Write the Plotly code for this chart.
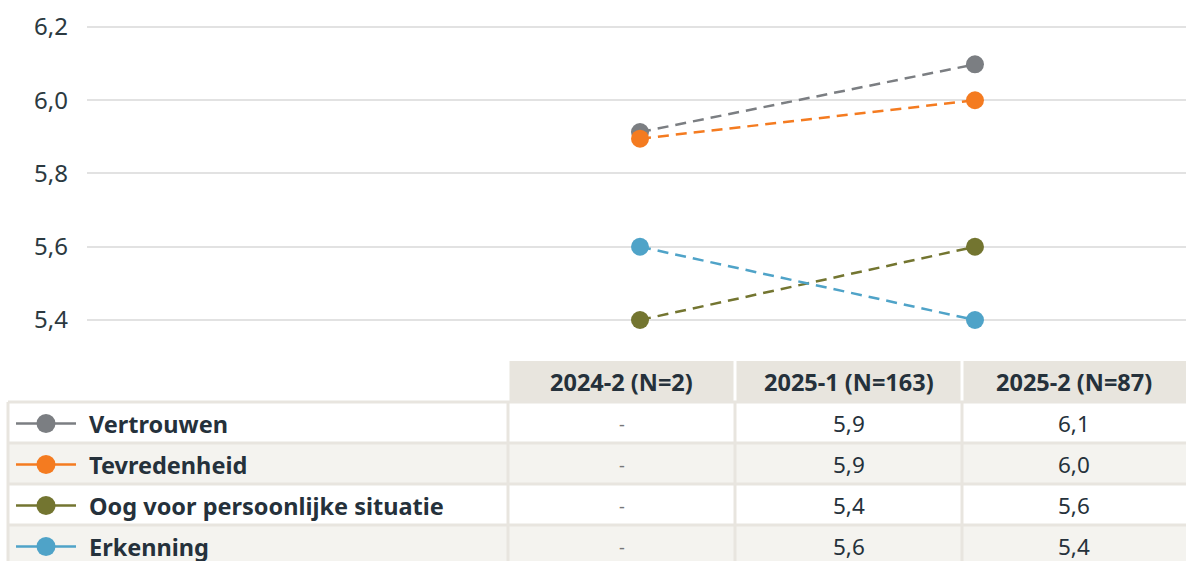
import plotly.graph_objects as go

W, H = 1186, 561

PERIODS = ["2024-2 (N=2)", "2025-1 (N=163)", "2025-2 (N=87)"]
SERIES = ["Vertrouwen", "Tevredenheid", "Oog voor persoonlijke situatie", "Erkenning"]
COLORS = ["#7b7e82", "#f47b20", "#737530", "#4fa3c8"]
VERTROUWEN = [None, 5.913, 6.098]
TEVREDENHEID = [None, 5.895, 6.0]
OOG = [None, 5.40, 5.60]
ERKENNING = [None, 5.60, 5.40]
TABLE_TEXT = [
    ["-", "5,9", "6,1"],
    ["-", "5,9", "6,0"],
    ["-", "5,4", "5,6"],
    ["-", "5,6", "5,4"],
]
YTICKS = [5.4, 5.6, 5.8, 6.0, 6.2]

INK = "#25313b"
HEAD_FILL = "#e8e5de"
ALT_FILL = "#f4f3ef"
BORDER = "#e8e5df"
FONT = "Noto Sans, Open Sans, sans-serif"


def px(x):
    # page pixel -> paper fraction
    return x / W


def py(y):
    return 1 - y / H


fig = go.Figure()
for name, vals, col in zip(SERIES, [VERTROUWEN, TEVREDENHEID, OOG, ERKENNING], COLORS):
    fig.add_trace(go.Scatter(
        x=PERIODS, y=vals, mode="lines+markers", name=name,
        line=dict(color=col, width=2.5, dash="11px,7px"),
        marker=dict(color=col, size=18),
        connectgaps=False, showlegend=False,
    ))

shapes = []
annotations = []

# table geometry (pixels)
col_edges = [508, 735, 962, W]
head_top, head_bot = 361, 402
row_h = 41
n_rows = len(SERIES)

for i, p in enumerate(PERIODS):
    x0, x1 = col_edges[i], col_edges[i + 1]
    shapes.append(dict(type="rect", xref="paper", yref="paper",
                       x0=px(x0 + 1.5), x1=px(x1 - (1.5 if i < 2 else 0)),
                       y0=py(head_bot), y1=py(head_top),
                       fillcolor=HEAD_FILL, line=dict(width=0), layer="below"))
    annotations.append(dict(xref="paper", yref="paper", x=px((x0 + x1) / 2),
                            y=py((head_top + head_bot) / 2), text=f"<b>{p}</b>",
                            showarrow=False, xanchor="center", yanchor="middle",
                            font=dict(size=23.5, color=INK, family=FONT)))

for r in range(n_rows):
    y0 = head_bot + r * row_h
    y1 = y0 + row_h
    shapes.append(dict(type="rect", xref="paper", yref="paper",
                       x0=px(8), x1=1, y0=py(y1), y1=py(y0),
                       fillcolor=ALT_FILL if r % 2 else "white",
                       line=dict(width=0), layer="below"))
    yc = (y0 + y1) / 2 + 1
    # legend glyph
    shapes.append(dict(type="line", xref="paper", yref="paper",
                       x0=px(16), x1=px(76), y0=py(yc), y1=py(yc),
                       line=dict(color=COLORS[r], width=2.5)))
    shapes.append(dict(type="circle", xref="paper", yref="paper",
                       x0=px(46 - 9.5), x1=px(46 + 9.5), y0=py(yc + 9.5), y1=py(yc - 9.5),
                       fillcolor=COLORS[r], line=dict(width=0)))
    annotations.append(dict(xref="paper", yref="paper", x=px(87), y=py(yc),
                            text=f"<b>{SERIES[r]}</b>", showarrow=False,
                            xanchor="left", yanchor="middle",
                            font=dict(size=23.5, color=INK, family=FONT)))
    for c in range(3):
        x0, x1 = col_edges[c], col_edges[c + 1]
        txt = TABLE_TEXT[r][c]
        annotations.append(dict(xref="paper", yref="paper", x=px((x0 + x1) / 2), y=py(yc),
                                text=txt, showarrow=False, xanchor="center", yanchor="middle",
                                font=dict(size=22.5 if txt != "-" else 18,
                                          color=INK if txt != "-" else "#777",
                                          family=FONT)))

for r in range(n_rows + 1):
    y = head_bot + r * row_h
    shapes.append(dict(type="line", xref="paper", yref="paper", x0=px(8), x1=1,
                       y0=py(y), y1=py(y), line=dict(color=BORDER, width=3)))
for x in [8] + col_edges[:3]:
    shapes.append(dict(type="line", xref="paper", yref="paper", x0=px(x), x1=px(x),
                       y0=py(head_bot), y1=py(600), line=dict(color=BORDER, width=3)))

fig.update_layout(
    width=W, height=H, template=None,
    paper_bgcolor="white", plot_bgcolor="white",
    margin=dict(l=0, r=0, t=0, b=0),
    separators=",.",
    font=dict(family=FONT, color=INK, size=24),
    xaxis=dict(domain=[px(87), 1], type="category", categoryarray=PERIODS,
               range=[-0.651, 2.63], showticklabels=False, showgrid=False,
               zeroline=False, showline=False),
    yaxis=dict(domain=[py(355), 1], range=[5.3044, 6.2737], tickvals=YTICKS,
               tickformat=".1f", showgrid=True, gridcolor="#e2e2e2", gridwidth=2,
               zeroline=False, showline=False, ticklabelstandoff=18,
               tickfont=dict(size=24, color="#2b3940")),
    shapes=shapes, annotations=annotations,
)

# drop the default page margin so the figure fills the window
fig.write_html("out.html", config={"displayModeBar": False}, post_script=(
    "document.body.style.margin='0';document.body.style.overflow='hidden';"))
